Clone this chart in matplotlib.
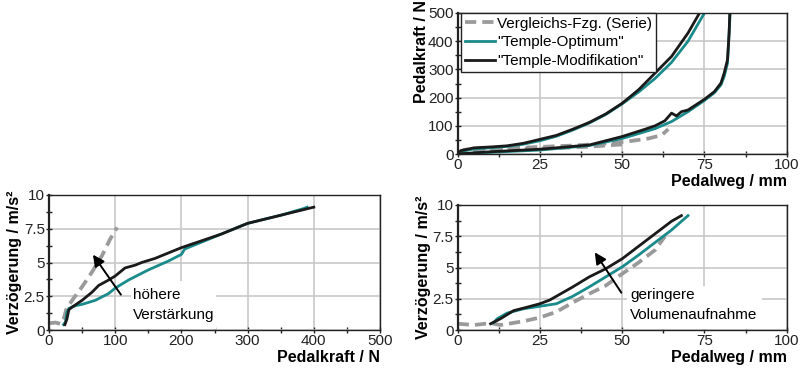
import numpy as np
import matplotlib
matplotlib.use("Agg")
from matplotlib import pyplot as plt
from matplotlib.ticker import MultipleLocator

plt.rcParams['font.family'] = ['Liberation Sans', 'DejaVu Sans']

## Farben
c_serie = '#9a9a9a'
c_opt = '#1a8a8a'
c_mod = '#1a1a1a'
c_grid = '#c8c8c8'

## Pedalweg / Pedalkraft (Hysterese, je zwei Aeste)
serie_auf_x = [0, 2, 5, 15, 25, 35, 45, 52, 58, 62, 64]
serie_auf_y = [5, 15, 18, 20, 25, 30, 37, 45, 55, 67, 88]
serie_ab_x = [50, 40, 30, 20, 10, 3, 0]
serie_ab_y = [34, 26, 21, 18, 15, 10, 5]

opt_ob_x = [0, 2, 5, 10, 15, 20, 25, 30, 35, 40, 45, 50, 55, 60, 65, 70, 75]
opt_ob_y = [3, 12, 18, 22, 27, 35, 47, 63, 85, 110, 140, 178, 220, 268, 325, 400, 500]
opt_un_x = [0, 10, 25, 40, 50, 60, 65, 70, 75, 78, 80, 81, 82, 82.5, 82.8]
opt_un_y = [0, 6, 14, 30, 55, 90, 115, 150, 190, 217, 245, 275, 322, 430, 500]

mod_ob_x = [0, 1, 5, 10, 15, 20, 25, 30, 35, 40, 45, 50, 55, 60, 65, 70, 73.5]
mod_ob_y = [3, 12, 22, 25, 29, 38, 52, 66, 88, 112, 142, 180, 228, 287, 346, 429, 500]
mod_un_x = [0, 10, 25, 40, 50, 57, 60, 63, 65, 66.5, 68, 70, 75, 78, 80, 81, 82, 82.5, 82.7]
mod_un_y = [0, 8, 17, 32, 62, 88, 100, 118, 145, 135, 150, 156, 194, 221, 251, 287, 334, 429, 500]

## Pedalkraft / Verzoegerung
kraft_serie = [0, 10, 18, 22, 26, 35, 50, 65, 80, 92, 103]
verz_serie = [0.5, 0.55, 0.45, 0.8, 1.5, 2.2, 3.2, 4.3, 5.5, 6.7, 7.6]
kraft_opt = [22, 25, 27, 30, 40, 50, 70, 90, 100, 120, 150, 180, 200, 205, 230, 250, 300, 350, 385, 390]
verz_opt = [0.4, 0.6, 1.3, 1.6, 1.8, 1.9, 2.2, 2.7, 3.1, 3.7, 4.45, 5.1, 5.6, 6.0, 6.5, 6.9, 7.9, 8.5, 9.0, 9.1]
kraft_mod = [24, 27, 30, 35, 50, 65, 75, 90, 100, 110, 115, 130, 140, 160, 180, 200, 230, 260, 300, 350, 400]
verz_mod = [0.4, 0.8, 1.5, 1.7, 2.2, 2.8, 3.3, 3.7, 4.0, 4.4, 4.6, 4.8, 5.0, 5.3, 5.7, 6.1, 6.6, 7.1, 7.9, 8.5, 9.1]

## Pedalweg / Verzoegerung
weg_serie = [0, 5, 10, 13, 20, 25, 30, 35, 40, 45, 50, 55, 60, 63]
verz2_serie = [0.5, 0.4, 0.55, 0.4, 0.7, 1.0, 1.45, 2.2, 2.9, 3.55, 4.5, 5.4, 6.4, 7.5]
weg_opt = [11, 12, 15, 20, 25, 30, 35, 40, 45, 50, 55, 60, 65, 70]
verz2_opt = [0.6, 0.9, 1.35, 1.7, 1.9, 2.1, 2.7, 3.45, 4.25, 5.05, 6.0, 7.0, 8.0, 9.15]
weg_mod = [10, 13, 17, 20, 25, 28, 30, 35, 40, 45, 50, 55, 60, 65, 68]
verz2_mod = [0.5, 0.9, 1.55, 1.75, 2.1, 2.4, 2.7, 3.45, 4.25, 4.9, 5.7, 6.7, 7.7, 8.7, 9.15]

legend_labels = ['Vergleichs-Fzg. (Serie)', '"Temple-Optimum"', '"Temple-Modifikation"']

W, H = 800, 369
fig = plt.figure(figsize=(W / 100, H / 100), dpi=100)


def make_ax(x0, y0, x1, y1):
    # Pixelkoordinaten (oben links Ursprung) -> Figurkoordinaten
    return fig.add_axes([x0 / W, 1 - y1 / H, (x1 - x0) / W, (y1 - y0) / H])


def style_ax(ax, xmax, xmaj, ymax, ymaj, yfmt=None):
    ax.set_xlim(0, xmax)
    ax.set_ylim(0, ymax)
    ax.xaxis.set_major_locator(MultipleLocator(xmaj))
    ax.xaxis.set_minor_locator(MultipleLocator(xmaj / 2))
    ax.yaxis.set_major_locator(MultipleLocator(ymaj))
    ax.yaxis.set_minor_locator(MultipleLocator(ymaj / 2))
    ax.grid(True, which='major', color=c_grid, lw=1.2, zorder=0)
    ax.set_axisbelow(True)
    ax.tick_params(which='both', direction='inout', length=5, width=1, labelsize=11,
                   top=False, right=False, colors='#222222', pad=0.5)
    ax.tick_params(which='minor', length=4)
    for s in ax.spines.values():
        s.set_linewidth(1.0)
        s.set_color('#222222')
    ax.spines['left'].set_linewidth(1.6)
    if yfmt is not None:
        ax.yaxis.set_major_formatter(yfmt)


def fmt_verz(v, pos):
    return ('%g' % v)


lw_s, lw_l = 2.7, 2.0
ls_s = (0, (3, 1.6))
pfeil = dict(arrowstyle='-|>', color='black', lw=1.4, mutation_scale=17)

## oben rechts: Pedalweg / Pedalkraft
ax1 = make_ax(457.7, 13, 786.7, 154)
style_ax(ax1, 100, 25, 500, 100)
ax1.plot(serie_auf_x, serie_auf_y, color=c_serie, lw=lw_s, ls=ls_s, label=legend_labels[0])
ax1.plot(serie_ab_x, serie_ab_y, color=c_serie, lw=lw_s, ls=ls_s)
ax1.plot(opt_ob_x, opt_ob_y, color=c_opt, lw=lw_l, label=legend_labels[1])
ax1.plot(opt_un_x, opt_un_y, color=c_opt, lw=lw_l)
ax1.plot(mod_ob_x, mod_ob_y, color=c_mod, lw=lw_l, label=legend_labels[2])
ax1.plot(mod_un_x, mod_un_y, color=c_mod, lw=lw_l)
leg = ax1.legend(loc='upper left', bbox_to_anchor=(0.01, 1.0), fontsize=11, frameon=True,
                 fancybox=False, edgecolor='#222222', framealpha=1, borderpad=0.25,
                 labelspacing=0.3, handlelength=2.0, handletextpad=0.1, borderaxespad=0)
leg.get_frame().set_linewidth(1.0)
ax1.set_xlabel('Pedalweg / mm', fontsize=11.5, fontweight='bold', ha='right', x=1.0, labelpad=1)
ax1.text(-0.11, 1.09, 'Pedalkraft / N', transform=ax1.transAxes, rotation=90,
         ha='center', va='top', fontsize=11.5, fontweight='bold')

## unten links: Pedalkraft / Verzoegerung
ax2 = make_ax(49, 195, 380, 330)
style_ax(ax2, 500, 100, 10, 2.5, plt.FuncFormatter(fmt_verz))
ax2.plot(kraft_serie, verz_serie, color=c_serie, lw=lw_s, ls=ls_s)
ax2.plot(kraft_opt, verz_opt, color=c_opt, lw=lw_l)
ax2.plot(kraft_mod, verz_mod, color=c_mod, lw=lw_l)
ax2.add_patch(plt.Rectangle((124, 0.05), 129, 3.6, facecolor='white', edgecolor='none', zorder=1))
ax2.text(127, 1.85, 'höhere\nVerstärkung', fontsize=11, ha='left', va='center',
         linespacing=1.6, zorder=3)
ax2.annotate('', xy=(64, 5.75), xytext=(111, 2.45), arrowprops=pfeil, zorder=4)
ax2.set_xlabel('Pedalkraft / N', fontsize=11.5, fontweight='bold', ha='right', x=1.0, labelpad=1)
ax2.set_ylabel('Verzögerung / m/s²', fontsize=11.5, fontweight='bold', labelpad=1)

## unten rechts: Pedalweg / Verzoegerung
ax3 = make_ax(457.7, 205, 786.7, 330)
style_ax(ax3, 100, 25, 10, 2.5, plt.FuncFormatter(fmt_verz))
ax3.plot(weg_serie, verz2_serie, color=c_serie, lw=lw_s, ls=ls_s)
ax3.plot(weg_opt, verz2_opt, color=c_opt, lw=lw_l)
ax3.plot(weg_mod, verz2_mod, color=c_mod, lw=lw_l)
ax3.add_patch(plt.Rectangle((51.5, 0.05), 41, 3.45, facecolor='white', edgecolor='none', zorder=1))
ax3.text(52.5, 2.0, 'geringere\nVolumenaufnahme', fontsize=11, ha='left', va='center',
         linespacing=1.6, zorder=3)
ax3.annotate('', xy=(41.2, 6.4), xytext=(50.2, 2.8), arrowprops=pfeil, zorder=4)
ax3.set_xlabel('Pedalweg / mm', fontsize=11.5, fontweight='bold', ha='right', x=1.0, labelpad=1)
ax3.set_ylabel('Verzögerung / m/s²', fontsize=11.5, fontweight='bold', labelpad=1)

fig.savefig('out.png', dpi=100, facecolor='white')
